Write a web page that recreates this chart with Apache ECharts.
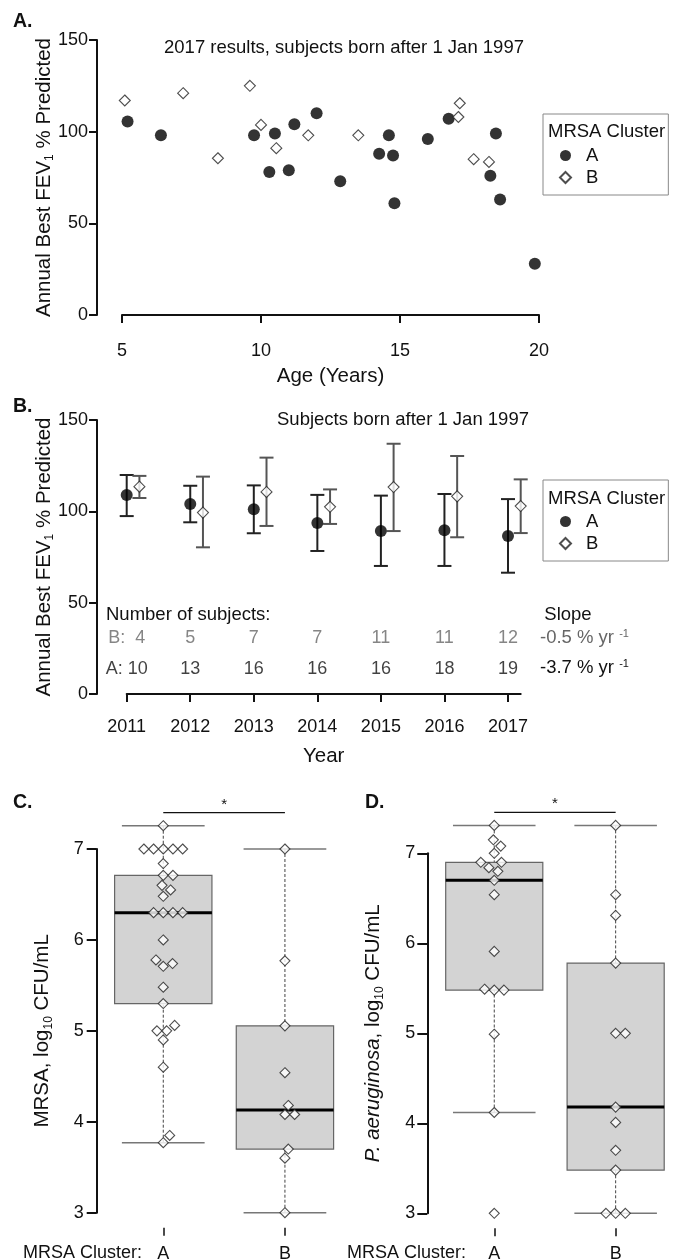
<!DOCTYPE html>
<html>
<head>
<meta charset="utf-8">
<script src="https://cdn.jsdelivr.net/npm/echarts@6/dist/echarts.min.js"></script>
<style>
html, body { margin: 0; padding: 0; background: #fff; }
#container { width: 673px; height: 1260px; }
</style>
</head>
<body>
<div id="container"></div>
<script>
// ---- Panel A: 2017 FEV1 vs age ----
var ageClusterA = [5.2, 6.4, 9.75, 10.5, 10.3, 11.0, 11.2, 12.0, 12.85, 14.6, 14.25, 14.75, 14.8, 16.0, 16.75, 18.45, 18.25, 18.6, 19.85];
var fevClusterA = [105.5, 98, 98, 99, 78, 79, 104, 110, 73, 98, 88, 87, 61, 96, 107, 99, 76, 63, 28];
var ageClusterB = [5.1, 7.2, 8.45, 9.6, 10.0, 10.55, 11.7, 13.5, 17.1, 17.15, 17.65, 18.2];
var fevClusterB = [117, 121, 85.5, 125, 103.7, 91, 98, 98, 108, 115.5, 85, 83.5];

// ---- Panel B: yearly mean with error bars ----
var years = [2011, 2012, 2013, 2014, 2015, 2016, 2017];
var meanA = [108.9, 104.0, 101.1, 93.6, 89.2, 89.6, 86.5];
var lowA  = [97.4, 94.0, 88.0, 78.3, 70.1, 70.1, 66.4];
var highA = [119.9, 114.0, 114.2, 109.0, 108.6, 109.5, 106.7];
var meanB = [113.5, 99.3, 110.6, 102.5, 113.3, 108.2, 102.9];
var lowB  = [107.3, 80.3, 92.0, 93.1, 89.2, 85.8, 88.1];
var highB = [119.4, 119.0, 129.4, 112.0, 137.0, 130.3, 117.5];
var countA = [10, 13, 16, 16, 16, 18, 19];
var countB = [4, 5, 7, 7, 11, 11, 12];
var slopeA = '-3.7';
var slopeB = '-0.5';

// ---- Panels C and D: log10 CFU/mL by cluster ----
var clusters = ['A', 'B'];
var mrsaA = [7.256, 7.0, 7.0, 7.0, 7.0, 7.0, 6.84, 6.71, 6.71, 6.60, 6.55, 6.48, 6.30, 6.30, 6.30, 6.30,
             6.0, 5.78, 5.74, 5.71, 5.48, 5.30, 5.06, 5.0, 5.0, 4.90, 4.60, 3.85, 3.77];
var mrsaB = [7.0, 5.77, 5.055, 4.54, 4.18, 4.08, 4.08, 3.70, 3.60, 3.0];
var paerA = [7.31, 7.15, 7.08, 7.0, 6.90, 6.90, 6.84, 6.80, 6.70, 6.54, 5.91, 5.49, 5.48, 5.48, 4.99, 4.12, 3.0];
var paerB = [7.31, 6.54, 6.31, 5.78, 5.0, 5.0, 4.18, 4.01, 3.70, 3.48, 3.0, 3.0, 3.0];

var ink = '#111';
var font = "'Liberation Sans', Arial, sans-serif";
var dodge = 0.2;      // cluster B shifted right in panel B
var rowB = 30.5, rowA = 13.5;   // y of the subject-count rows (panel B units)

var gA = {left: 122, top: 40, width: 417, height: 275};
var gB = {left: 126.7, top: 420, width: 394, height: 274};
var gC = {left: 114.6, top: 849, width: 219, height: 363.7};
var gD = {left: 445.7, top: 853.3, width: 218.5, height: 360};

// R style fivenum + whiskers
function fivenum(v) {
    var s = v.slice().sort(function(a, b) { return a - b; }), n = s.length;
    var n4 = Math.floor((n + 3) / 2) / 2;
    return [1, n4, (n + 1) / 2, n + 1 - n4, n].map(function(d) {
        return 0.5 * (s[Math.floor(d) - 1] + s[Math.ceil(d) - 1]);
    });
}
function boxStats(v) {
    var f = fivenum(v), iqr = f[3] - f[1];
    var inside = v.filter(function(x) { return x >= f[1] - 1.5 * iqr && x <= f[3] + 1.5 * iqr; });
    return [Math.min.apply(null, inside), f[1], f[2], f[3], Math.max.apply(null, inside)];
}
// beeswarm (swarm method, ascending priority), returns offsets in axis units
function swarm(vals, pxY, pxX, d) {
    var order = vals.map(function(v, i) { return i; }).sort(function(a, b) { return vals[a] - vals[b]; });
    var placed = [], out = [];
    order.forEach(function(i) {
        var y = vals[i] * pxY;
        var near = placed.filter(function(p) { return Math.abs(p.y - y) < d; });
        var cands = [0];
        near.forEach(function(p) {
            var dx = Math.sqrt(d * d - (p.y - y) * (p.y - y));
            cands.push(p.x + dx, p.x - dx);
        });
        var ok = cands.filter(function(c) {
            return near.every(function(p) { return (c - p.x) * (c - p.x) + (p.y - y) * (p.y - y) >= d * d - 1e-6; });
        });
        var best = ok[0];
        ok.forEach(function(c) { if (Math.abs(c) < Math.abs(best) - 1e-9) best = c; });
        placed.push({x: best, y: y});
        out[i] = best / pxX;
    });
    return out;
}
function swarmData(vals, group, g) {
    var off = swarm(vals, g.height / 4, g.width / 1.8, 9.7);
    return vals.map(function(v, i) { return [group + off[i], v]; });
}

function boxItem(params, api) {
    var x = api.value(0);
    var lo = api.coord([x, api.value(1)]), q1 = api.coord([x, api.value(2)]);
    var md = api.coord([x, api.value(3)]), q3 = api.coord([x, api.value(4)]);
    var hi = api.coord([x, api.value(5)]);
    var hw = api.size([0.4, 0])[0], sw = api.size([0.34, 0])[0];
    var dash = {stroke: '#444', lineWidth: 1, lineDash: [3, 2]};
    var staple = {stroke: '#777', lineWidth: 1.5};
    return {type: 'group', children: [
        {type: 'line', shape: {x1: hi[0], y1: hi[1], x2: q3[0], y2: q3[1]}, style: dash},
        {type: 'line', shape: {x1: lo[0], y1: lo[1], x2: q1[0], y2: q1[1]}, style: dash},
        {type: 'line', shape: {x1: hi[0] - sw, y1: hi[1], x2: hi[0] + sw, y2: hi[1]}, style: staple},
        {type: 'line', shape: {x1: lo[0] - sw, y1: lo[1], x2: lo[0] + sw, y2: lo[1]}, style: staple},
        {type: 'rect', shape: {x: q3[0] - hw, y: q3[1], width: 2 * hw, height: q1[1] - q3[1]},
            style: {fill: '#d3d3d3', stroke: '#666', lineWidth: 1.2}},
        {type: 'line', shape: {x1: md[0] - hw, y1: md[1], x2: md[0] + hw, y2: md[1]},
            style: {stroke: '#000', lineWidth: 3}}
    ]};
}
function sigItem(params, api) {
    var a = api.coord([api.value(0), api.value(2)]), b = api.coord([api.value(1), api.value(2)]);
    return {type: 'group', children: [
        {type: 'line', shape: {x1: a[0], y1: a[1], x2: b[0], y2: b[1]}, style: {stroke: ink, lineWidth: 1.2}},
        {type: 'text', x: (a[0] + b[0]) / 2, y: a[1] - 8,
            style: {text: '*', fontSize: 15, fill: ink, align: 'center', verticalAlign: 'middle'}}
    ]};
}
function errItem(color) {
    return function(params, api) {
        var lo = api.coord([api.value(0), api.value(1)]), hi = api.coord([api.value(0), api.value(2)]);
        var st = {stroke: color, lineWidth: 2};
        return {type: 'group', children: [
            {type: 'line', shape: {x1: lo[0], y1: lo[1], x2: hi[0], y2: hi[1]}, style: st},
            {type: 'line', shape: {x1: lo[0] - 7, y1: lo[1], x2: lo[0] + 7, y2: lo[1]}, style: st},
            {type: 'line', shape: {x1: hi[0] - 7, y1: hi[1], x2: hi[0] + 7, y2: hi[1]}, style: st}
        ]};
    };
}

var statsC = [boxStats(mrsaA), boxStats(mrsaB)];
var statsD = [boxStats(paerA), boxStats(paerB)];
function sigHeight(st) { return Math.max(st[0][4], st[1][4]) + 0.145; }

var nameRich = {
    sub: {fontSize: 12, lineHeight: 12, verticalAlign: 'bottom'},
    sup: {fontSize: 11, lineHeight: 11, verticalAlign: 'top'},
    i: {fontStyle: 'italic', fontSize: 20.5}
};
var axisLine = {show: true, lineStyle: {color: ink, width: 2}};
function yAxis(grid, min, max, step, offset, name, gap, tick, margin) {
    return {
        type: 'value', gridIndex: grid, min: min, max: max, interval: step, offset: offset,
        name: name, nameLocation: 'middle', nameGap: gap, nameMoveOverlap: false,
        nameTextStyle: {fontSize: 20.5, color: ink, lineHeight: 24, rich: nameRich},
        axisLine: axisLine, splitLine: {show: false},
        axisTick: {show: true, length: tick, lineStyle: {color: ink, width: 2}},
        axisLabel: {fontSize: 18, color: ink, margin: margin}
    };
}
function groupAxis(grid) {
    return {
        type: 'value', gridIndex: grid, min: 0.6, max: 2.4, offset: 15,
        axisLine: {show: false}, splitLine: {show: false},
        axisTick: {show: true, length: 8, customValues: [1, 2], lineStyle: {color: ink, width: 1.5}},
        axisLabel: {fontSize: 18, color: ink, margin: 17, customValues: [1, 2],
            formatter: function(v) { return clusters[v - 1]; }}
    };
}
function legendBox(top) {
    return {
        data: [{name: 'A', icon: 'circle'}, {name: 'B', icon: 'diamond'}],
        orient: 'vertical', left: 543, top: top, itemWidth: 11, itemHeight: 11, itemGap: 3,
        padding: [32, 70, 8, 16], borderColor: '#888', borderWidth: 1, selectedMode: false,
        textStyle: {fontSize: 18.5, color: ink, padding: [0, 0, 0, 10]}
    };
}
function txt(x, y, s, extra) {
    var style = {text: s, fontSize: 18.5, fill: ink, align: 'left', verticalAlign: 'middle', fontFamily: font};
    for (var k in extra) style[k] = extra[k];
    return {type: 'text', x: x, y: y, style: style};
}
var supRich = {sup: {fontSize: 11, lineHeight: 11, verticalAlign: 'top'}};

var diamond = {color: '#fff', borderColor: '#222', borderWidth: 1.1};
var dom = document.getElementById('container');
var myChart = echarts.init(dom);

var option = {
    animation: false,
    backgroundColor: '#fff',
    textStyle: {fontFamily: font},
    grid: [gA, gB, gC, gD].map(function(g) {
        return {left: g.left, top: g.top, width: g.width, height: g.height, containLabel: false, outerBoundsMode: 'none'};
    }),
    legend: [legendBox(114), legendBox(480)],
    xAxis: [
        {
            type: 'value', gridIndex: 0, min: 5, max: 20, interval: 5, offset: 15,
            name: 'Age (Years)', nameLocation: 'middle', nameGap: 36, nameMoveOverlap: false,
            nameTextStyle: {fontSize: 20.5, color: ink},
            axisLine: axisLine, splitLine: {show: false},
            axisTick: {show: true, length: 8, lineStyle: {color: ink, width: 2}},
            axisLabel: {fontSize: 18, color: ink, margin: 12}
        },
        {
            type: 'value', gridIndex: 1, min: 2011, max: 2017.2, offset: 12,
            name: 'Year', nameLocation: 'middle', nameGap: 40, nameMoveOverlap: false,
            nameTextStyle: {fontSize: 20.5, color: ink},
            axisLine: axisLine, splitLine: {show: false},
            axisTick: {show: true, length: 8, customValues: years, lineStyle: {color: ink, width: 2}},
            axisLabel: {fontSize: 18, color: ink, margin: 12, customValues: years,
                formatter: function(v) { return String(v); }}
        },
        groupAxis(2),
        groupAxis(3)
    ],
    yAxis: [
        yAxis(0, 0, 150, 50, 25, 'Annual Best FEV{sub|1} % Predicted', 41, 8, 9),
        yAxis(1, 0, 150, 50, 29.7, 'Annual Best FEV{sub|1} % Predicted', 41, 8, 9),
        yAxis(2, 3, 7, 1, 17.9, 'MRSA, log{sub|10} CFU/mL', 42, 10, 13),
        yAxis(3, 3, 7, 1, 18.4, '{i|P. aeruginosa}, log{sub|10} CFU/mL', 42, 10, 12)
    ],
    graphic: [
        txt(13, 22, 'A.', {fontWeight: 'bold', fontSize: 19.5}),
        txt(13, 407, 'B.', {fontWeight: 'bold', fontSize: 19.5}),
        txt(13, 803, 'C.', {fontWeight: 'bold', fontSize: 19.5}),
        txt(365, 803, 'D.', {fontWeight: 'bold', fontSize: 19.5}),
        txt(344, 48, '2017 results, subjects born after 1 Jan 1997', {align: 'center'}),
        txt(403, 420, 'Subjects born after 1 Jan 1997', {align: 'center'}),
        txt(548, 132, 'MRSA Cluster'),
        txt(548, 499, 'MRSA Cluster'),
        txt(106, 615, 'Number of subjects:'),
        txt(568, 615, 'Slope', {align: 'center'}),
        txt(540, 638, slopeB + ' % yr {sup|-1}', {fill: '#666', rich: supRich}),
        txt(540, 668, slopeA + ' % yr {sup|-1}', {rich: supRich}),
        txt(23, 1253, 'MRSA Cluster:', {fontSize: 18}),
        txt(347, 1253, 'MRSA Cluster:', {fontSize: 18})
    ],
    series: [
        // Panel A
        {
            name: 'A', type: 'scatter', xAxisIndex: 0, yAxisIndex: 0, symbol: 'circle', symbolSize: 12,
            itemStyle: {color: '#000'}, z: 3,
            data: ageClusterA.map(function(a, i) { return [a, fevClusterA[i]]; })
        },
        {
            name: 'B', type: 'scatter', xAxisIndex: 0, yAxisIndex: 0, symbol: 'diamond', symbolSize: 11,
            itemStyle: diamond, z: 3,
            data: ageClusterB.map(function(a, i) { return [a, fevClusterB[i]]; })
        },
        // Panel B
        {
            name: 'A err', type: 'custom', xAxisIndex: 1, yAxisIndex: 1, renderItem: errItem('#222'), z: 1,
            data: years.map(function(y, i) { return [y, lowA[i], highA[i]]; })
        },
        {
            name: 'B err', type: 'custom', xAxisIndex: 1, yAxisIndex: 1, renderItem: errItem('#555'), z: 1,
            data: years.map(function(y, i) { return [y + dodge, lowB[i], highB[i]]; })
        },
        {
            name: 'A', type: 'scatter', xAxisIndex: 1, yAxisIndex: 1, symbol: 'circle', symbolSize: 12,
            itemStyle: {color: '#000'}, z: 3,
            data: years.map(function(y, i) { return [y, meanA[i]]; })
        },
        {
            name: 'B', type: 'scatter', xAxisIndex: 1, yAxisIndex: 1, symbol: 'diamond', symbolSize: 11,
            itemStyle: diamond, z: 3, clip: false,
            data: years.map(function(y, i) { return [y + dodge, meanB[i]]; })
        },
        {
            name: 'n B', type: 'scatter', xAxisIndex: 1, yAxisIndex: 1, symbolSize: 0, silent: true,
            label: {show: true, position: 'inside', fontSize: 18, color: '#666',
                formatter: function(p) { return (p.dataIndex === 0 ? 'B:  ' : '') + p.value[2]; }},
            data: years.map(function(y, i) { return [y, rowB, countB[i]]; })
        },
        {
            name: 'n A', type: 'scatter', xAxisIndex: 1, yAxisIndex: 1, symbolSize: 0, silent: true,
            label: {show: true, position: 'inside', fontSize: 18, color: ink,
                formatter: function(p) { return (p.dataIndex === 0 ? 'A: ' : '') + p.value[2]; }},
            data: years.map(function(y, i) { return [y, rowA, countA[i]]; })
        },
        // Panel C
        {
            name: 'box C', type: 'custom', xAxisIndex: 2, yAxisIndex: 2, renderItem: boxItem, clip: false, z: 1,
            data: statsC.map(function(s, i) { return [i + 1].concat(s); })
        },
        {
            name: 'sig C', type: 'custom', xAxisIndex: 2, yAxisIndex: 2, renderItem: sigItem, clip: false, z: 1,
            data: [[1, 2, sigHeight(statsC)]]
        },
        {
            name: 'MRSA', type: 'scatter', xAxisIndex: 2, yAxisIndex: 2, symbol: 'diamond', symbolSize: 10,
            itemStyle: diamond, clip: false, z: 3,
            data: swarmData(mrsaA, 1, gC).concat(swarmData(mrsaB, 2, gC))
        },
        // Panel D
        {
            name: 'box D', type: 'custom', xAxisIndex: 3, yAxisIndex: 3, renderItem: boxItem, clip: false, z: 1,
            data: statsD.map(function(s, i) { return [i + 1].concat(s); })
        },
        {
            name: 'sig D', type: 'custom', xAxisIndex: 3, yAxisIndex: 3, renderItem: sigItem, clip: false, z: 1,
            data: [[1, 2, sigHeight(statsD)]]
        },
        {
            name: 'P. aeruginosa', type: 'scatter', xAxisIndex: 3, yAxisIndex: 3, symbol: 'diamond', symbolSize: 10,
            itemStyle: diamond, clip: false, z: 3,
            data: swarmData(paerA, 1, gD).concat(swarmData(paerB, 2, gD))
        }
    ]
};

if (option && typeof option === 'object') {
    myChart.setOption(option, true);
}
</script>
</body>
</html>
